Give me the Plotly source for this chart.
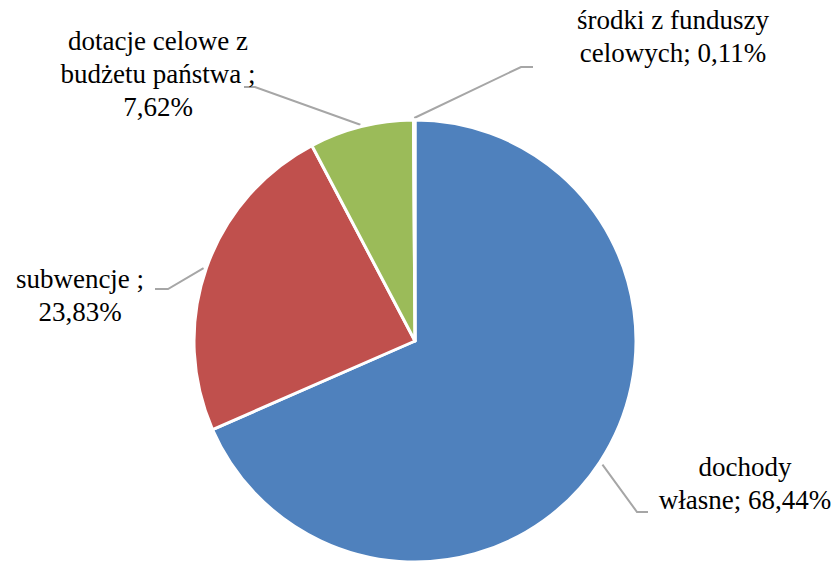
import math
import plotly.graph_objects as go

labels = ["dochody własne", "subwencje ", "dotacje celowe z budżetu państwa ", "środki z funduszy celowych"]
values = [68.44, 23.83, 7.62, 0.11]
colors = ["#4F81BD", "#C0504D", "#9BBB59", "#8064A2"]
label_lines = [
    ["dochody", "własne; 68,44%"],
    ["subwencje ;", "23,83%"],
    ["dotacje celowe z", "budżetu państwa ;", "7,62%"],
    ["środki z funduszy", "celowych; 0,11%"],
]

W, H = 840, 562
CX, CY, R = 415, 342, 222
LINE_H = 33

# label block centres (px) and leader elbow / end points (px)
label_pos = [(745, 486), (80, 298), (158, 76), (673, 39)]
elbows = [((637, 512), (648, 512)), ((168, 289), (155, 289)),
          ((255, 87), (244, 87)), ((521, 67), (533, 67))]

FONT = "Liberation Serif"

fig = go.Figure(go.Pie(
    labels=labels, values=values, sort=False, direction="clockwise",
    marker=dict(colors=colors, line=dict(color="white", width=3)),
    textinfo="none", showlegend=False,
    domain=dict(x=[(CX - R) / W, (CX + R) / W], y=[max(0, 1 - (CY + R) / H), 1 - (CY - R) / H]),
))

total = sum(values)
cum = 0
tx_all, ty_all, tt_all = [], [], []
for i, v in enumerate(values):
    mid = (cum + v / 2) / total * 2 * math.pi
    cum += v
    ex = CX + (R + 2) * math.sin(mid)
    ey = CY - (R + 2) * math.cos(mid)
    (bx, by), (ux, uy) = elbows[i]
    fig.add_trace(go.Scatter(x=[ex, bx, ux], y=[ey, by, uy], mode="lines",
                             line=dict(color="#A6A6A6", width=2), hoverinfo="skip", showlegend=False))
    lines = label_lines[i]
    n = len(lines)
    for j, t in enumerate(lines):
        tx_all.append(label_pos[i][0])
        ty_all.append(label_pos[i][1] + (j - (n - 1) / 2) * LINE_H)
        tt_all.append(t)

fig.add_trace(go.Scatter(x=tx_all, y=ty_all, text=tt_all, mode="text", textposition="middle center",
                         textfont=dict(family=FONT, size=27, color="black"),
                         hoverinfo="skip", showlegend=False))

fig.update_layout(
    width=W, height=H, margin=dict(l=0, r=0, t=0, b=0),
    font=dict(family=FONT),
    paper_bgcolor="rgba(0,0,0,0)", plot_bgcolor="rgba(0,0,0,0)",
    xaxis=dict(range=[0, W], visible=False, fixedrange=True),
    yaxis=dict(range=[H, 0], visible=False, fixedrange=True),
)
fig.write_html("out.html", post_script="document.body.style.margin='0px';", config={"displayModeBar": False})
